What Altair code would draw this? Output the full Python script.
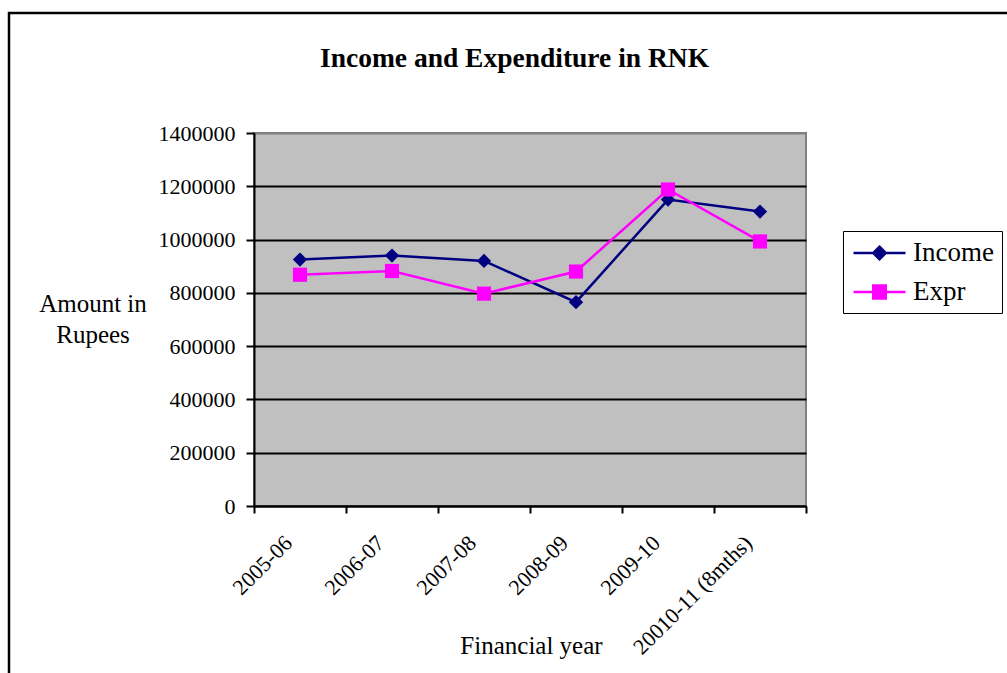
import altair as alt
import pandas as pd

# ---- data ----
years = ["2005-06", "2006-07", "2007-08", "2008-09", "2009-10", "20010-11 (8mths)"]
income = [925000, 940000, 920000, 765000, 1150000, 1105000]
expr = [868000, 882000, 797000, 880000, 1188000, 993000]
series_names = ["Income", "Expr"]
series_colors = ["#000080", "#FF00FF"]
y_ticks = [0, 200000, 400000, 600000, 800000, 1000000, 1200000, 1400000]

rows = []
for name, vals in zip(series_names, [income, expr]):
    for yr, v in zip(years, vals):
        rows.append({"year": yr, "series": name, "amount": v})
df = pd.DataFrame(rows)

FONT = "Liberation Serif"
W, H = 552, 373
PAD = {"left": 254, "top": 133, "right": 201, "bottom": 167}

x_enc = alt.X(
    "year:N",
    sort=years,
    bandPosition=0.5,
    scale=alt.Scale(type="band", paddingInner=0, paddingOuter=0),
    axis=alt.Axis(
        title="Financial year",
        titleX=277, titleY=147, titleAlign="center", titleBaseline="alphabetic",
        titleFont=FONT, titleFontSize=25, titleFontWeight="normal", titleColor="black",
        labelAngle=-45, labelAlign="right", labelBaseline="middle",
        labelPadding=26, labelOffset=-12,
        labelFont=FONT, labelFontSize=22, labelColor="black",
        tickBand="extent", tickSize=7, tickWidth=2, tickColor="black",
        domainColor="black", domainWidth=2, grid=False,
    ),
)

y_enc = alt.Y(
    "amount:Q",
    scale=alt.Scale(domain=[0, 1400000], nice=False),
    axis=alt.Axis(
        title=["Amount in", "Rupees"],
        titleAngle=0, titleX=-161.5, titleY=178.7, titleAlign="center",
        titleBaseline="alphabetic", titleLineHeight=31,
        titleFont=FONT, titleFontSize=25, titleFontWeight="normal", titleColor="black",
        values=y_ticks, format="d",
        labelFont=FONT, labelFontSize=22, labelColor="black", labelPadding=11,
        tickSize=8, tickWidth=2, tickColor="black",
        domainColor="black", domainWidth=2,
        grid=True, gridWidth=2,
        gridColor={"condition": {"test": "datum.value >= 1400000", "value": "#808080"},
                   "value": "black"},
    ),
)

# legend symbols: a short line with the series marker on it (unit = 12.5 px)
p_diamond = "M-0.92,0H3.24M1.16,-0.5L1.66,0L1.16,0.5L0.66,0Z"
p_square = "M-0.92,0H3.24M0.66,-0.52H1.66V0.52H0.66Z"

legend = alt.Legend(
    title=None, orient="none", legendX=589, legendY=98,
    direction="vertical", padding=8, fillColor="white", strokeColor="black",
    labelFont=FONT, labelFontSize=27, labelColor="black", labelOffset=34, labelLimit=300,
    rowPadding=12, symbolSize=625, symbolStrokeWidth=2.5, symbolOpacity=1,
)

color_scale = alt.Scale(domain=series_names, range=series_colors)
color_enc = alt.Color("series:N", scale=color_scale, legend=legend)

base = alt.Chart(df)

lines = base.mark_line(strokeWidth=2.5).encode(x=x_enc, y=y_enc, color=color_enc)

diamonds = base.transform_filter("datum.series === 'Income'").mark_point(
    filled=True, opacity=1, size=205, strokeWidth=0, shape="diamond"
).encode(x=x_enc, y=y_enc, color=color_enc)

squares = base.transform_filter("datum.series === 'Expr'").mark_point(
    filled=True, opacity=1, size=200, strokeWidth=0, shape="square"
).encode(x=x_enc, y=y_enc, color=color_enc)

# legend carrier: draws nothing, only supplies the legend symbols
carrier = base.transform_filter("false").mark_point(filled=True, opacity=1).encode(
    x=x_enc, y=y_enc,
    color=color_enc,
    stroke=alt.Stroke("series:N", scale=color_scale, legend=legend),
    shape=alt.Shape("series:N", scale=alt.Scale(domain=series_names, range=[p_diamond, p_square]),
                    legend=legend),
)

one = alt.Data(values=[{}])

frame = alt.Chart(one).mark_rect(
    fill="white", fillOpacity=0, stroke="black", strokeWidth=2.5
).encode(
    x=alt.value(-245), x2=alt.value(766), y=alt.value(-120), y2=alt.value(567)
)

title = alt.Chart(one).mark_text(
    text="Income and Expenditure in RNK", font=FONT, fontSize=27.5, fontWeight="bold",
    align="center", baseline="alphabetic", color="black"
).encode(x=alt.value(260.5), y=alt.value(-66))

chart = alt.layer(frame, title, lines, diamonds, squares, carrier).properties(
    width=W, height=H,
    autosize=alt.AutoSizeParams(type="none"),
    padding=PAD,
    background="white",
).configure_view(fill="#C0C0C0", stroke="#808080", strokeWidth=2)

chart.save("out.html", embed_options={"renderer": "svg", "actions": False})
